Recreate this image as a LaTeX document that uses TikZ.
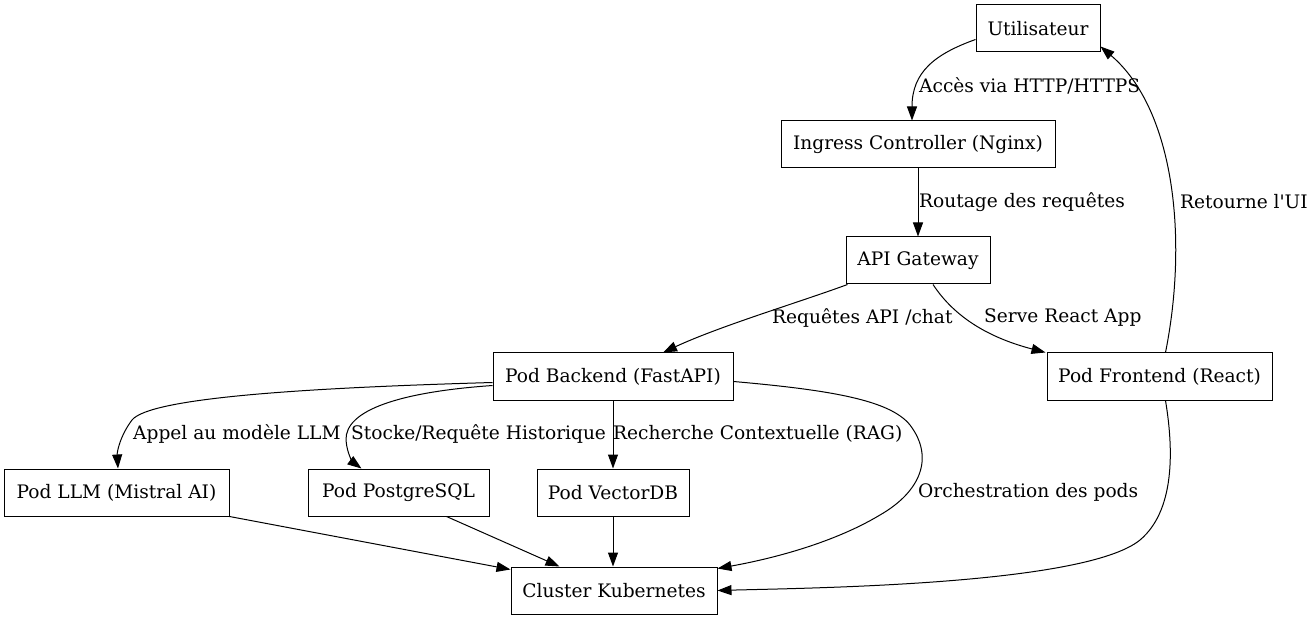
\documentclass[tikz,border=0pt]{standalone}
\usepackage{fontspec}
\setmainfont{DejaVu Serif}
\newfontfamily\rawserif{DejaVu Serif}
\usetikzlibrary{arrows.meta,calc}
\begin{document}
\begin{tikzpicture}[x=1pt,y=-1pt,
  box/.style={draw,line width=1pt,rectangle,minimum height=47pt,inner sep=0pt,font=\fontsize{18.6}{21}\selectfont},
  lbl/.style={inner sep=0pt,anchor=west,font=\fontsize{18.6}{21}\selectfont},
  edge/.style={line width=1pt,-{Triangle[length=14pt,width=10pt]}}]
\useasboundingbox (0,0) rectangle (1315,620);
\node[box,minimum width=124pt] (u) at (1038,28.5) {Utilisateur};
\node[box,minimum width=274pt] (ing) at (918,144.5) {Ingress Controller (Nginx)};
\node[box,minimum width=144pt] (api) at (918,260.5) {API Gateway};
\node[box,minimum width=240pt] (be) at (613,376.5) {Pod Backend (FastAPI)};
\node[box,minimum width=225pt] (fe) at (1159.5,376.5) {Pod Frontend (React)};
\node[box,minimum width=225pt] (llm) at (116.5,492.5) {Pod LLM (Mistral AI)};
\node[box,minimum width=181pt] (pg) at (398.5,492.5) {Pod PostgreSQL};
\node[box,minimum width=152pt] (vdb) at (613,492.5) {Pod VectorDB};
\node[box,minimum width=206pt] (k8s) at (614,590.5) {Cluster Kubernetes};

\node[lbl] (l1) at (919,86) {Accès via HTTP/HTTPS};
\node[lbl] (l2) at (919,202) {Routage des requêtes};
\node[lbl] (l3) at (772,318) {Requêtes API /chat};
\node[lbl] (l4) at (984,318) {Serve React App};
\node[lbl] (l5) at (1180,202) {\rawserif Retourne l'UI};
\node[lbl] (l6) at (133,434) {Appel au modèle LLM};
\node[lbl] (l7) at (351,434) {Stocke/Requête Historique};
\node[lbl] (l8) at (613,434) {Recherche Contextuelle (RAG)};
\node[lbl] (l9) at (918,492) {Orchestration des pods};

\draw[edge] ($(u.west)+(0,11)$) .. controls (935,54) and (912,72) .. ($(ing.north)+(-6,0)$);
\draw[edge] (ing.south) -- (api.north);
\draw[edge] ($(api.south west)+(2,0)$) .. controls (800,302) and (720,326) .. ($(be.north)+(50,0)$);
\draw[edge] ($(api.south)+(15,0)$) .. controls (955,318) and (990,338) .. ($(fe.north west)+(-1,0)$);
\draw[edge] ($(fe.north)+(6,0)$) .. controls (1188,240) and (1175,110) .. ($(u.south east)+(0,-6)$);
\draw[edge] ($(be.west)+(0,6)$) .. controls (300,388) and (150,398) .. (132,420) .. controls (120,436) and (117,452) .. ($(llm.north)+(1.5,0)$);
\draw[edge] ($(be.west)+(0,9)$) .. controls (400,392) and (345,410) .. (346,440) .. controls (347,455) and (354,463) .. ($(pg.north)+(-37,0)$);
\draw[edge] (be.south) -- (vdb.north);
\draw[edge] ($(be.east)+(0,5)$) .. controls (830,390) and (890,400) .. (910,425) .. controls (935,458) and (920,492) .. (880,515) .. controls (830,545) and (765,560) .. ($(k8s.north east)+(0,2)$);
\draw[edge] (llm.south east) -- ($(k8s.north west)+(0,3)$);
\draw[edge] ($(pg.south)+(48,0)$) -- ($(k8s.north west)+(49,0)$);
\draw[edge] (vdb.south) -- ($(k8s.north)+(-1,0)$);
\draw[edge] ($(fe.south)+(6,0)$) .. controls (1172,440) and (1178,508) .. (1140,540) .. controls (1085,585) and (810,588) .. (k8s.east);
\end{tikzpicture}
\end{document}
